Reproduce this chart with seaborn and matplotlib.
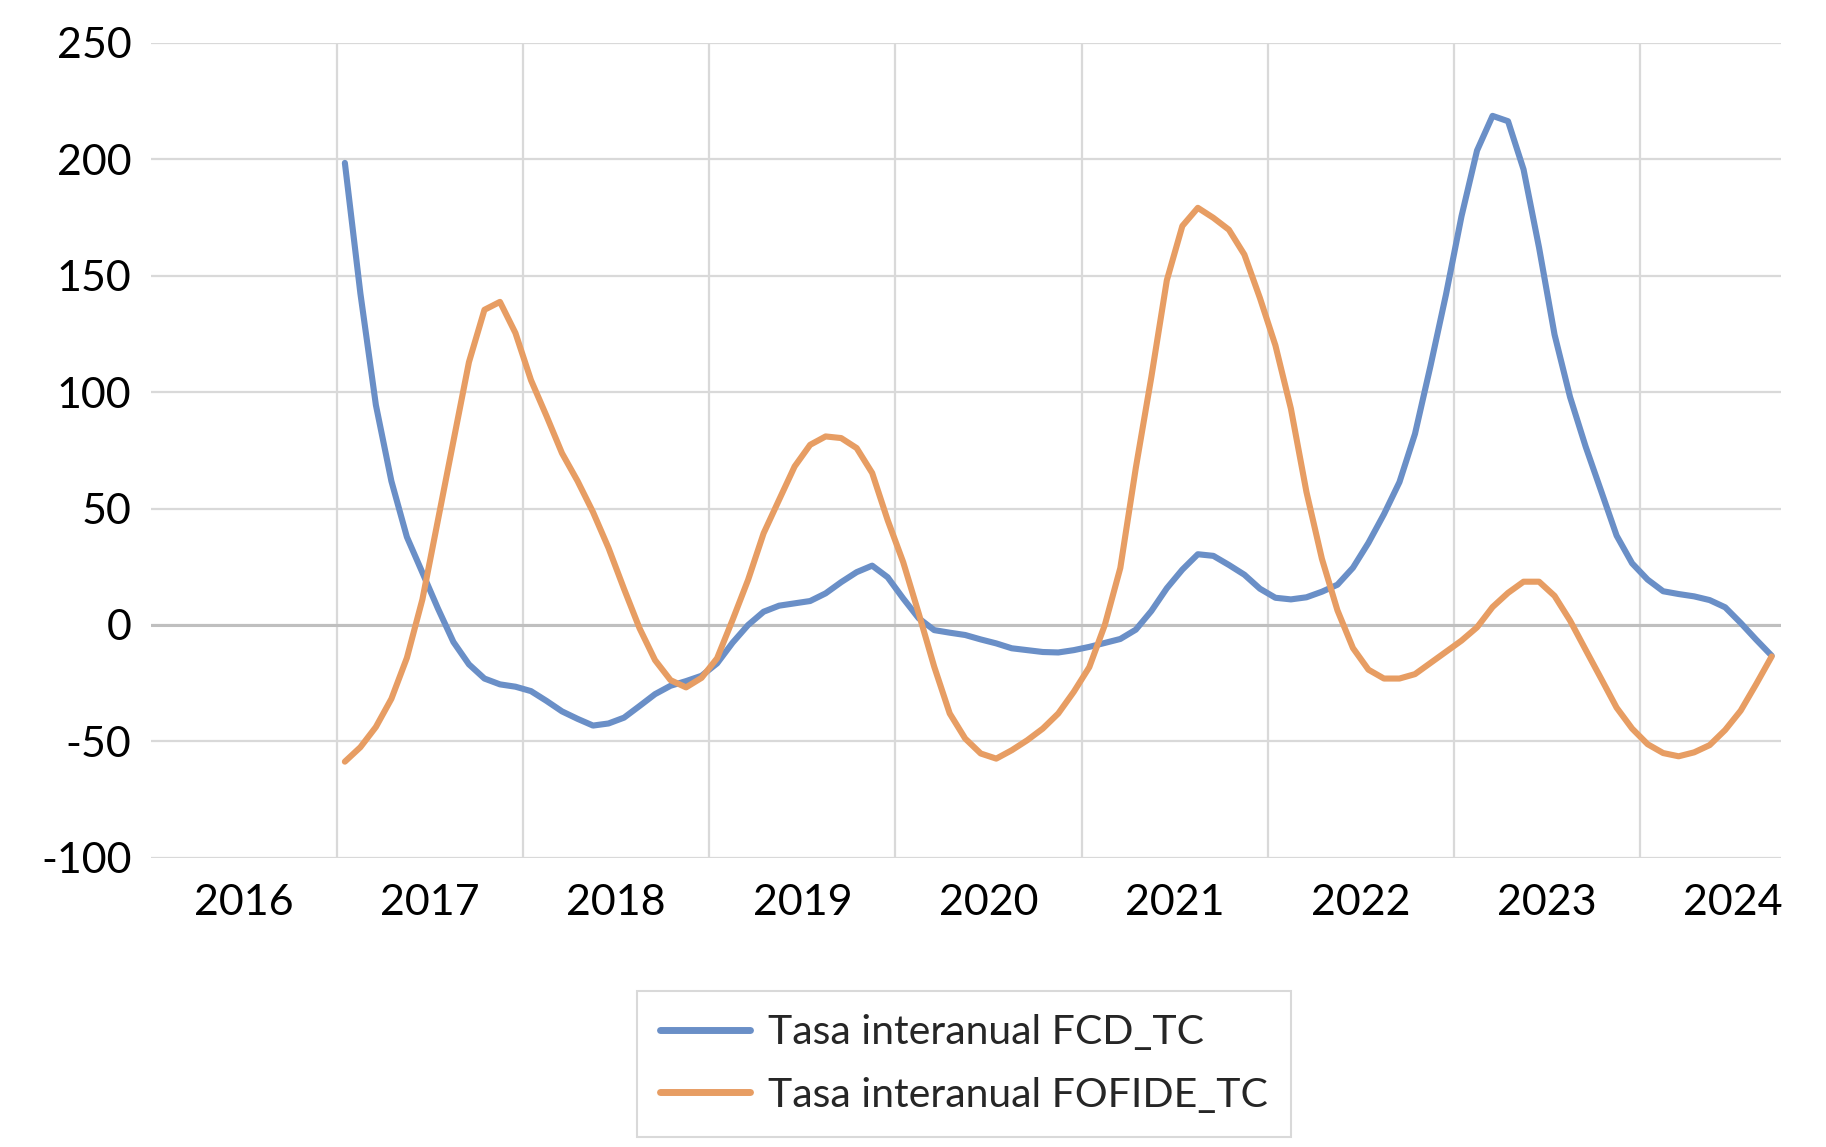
import numpy as np
import pandas as pd
import matplotlib
matplotlib.use("Agg")
import matplotlib.pyplot as plt
import seaborn as sns

# ---------------- data ----------------
years = ["2016", "2017", "2018", "2019", "2020", "2021", "2022", "2023", "2024"]
series_names = ["Tasa interanual FCD_TC", "Tasa interanual FOFIDE_TC"]

# monthly observations, Jan 2017 .. Sep 2024
fcd = [198.5, 142.5, 94.5, 61.8, 37.8, 22.5, 7.1, -7.3, -16.9, -23.0,
       -25.5, -26.5, -28.4, -32.6, -37.1, -40.3, -43.2, -42.3, -39.8, -34.8,
       -29.7, -26.1, -24.1, -21.8, -16.5, -7.6, 0.0, 5.7, 8.3, 9.3,
       10.3, 13.6, 18.4, 22.7, 25.5, 20.5, 11.4, 2.9, -2.2, -3.3,
       -4.3, -6.2, -7.9, -10.0, -10.8, -11.6, -11.8, -10.8, -9.4, -7.7,
       -6.0, -2.0, 6.0, 15.8, 23.8, 30.4, 29.7, 25.8, 21.6, 15.6,
       11.7, 11.0, 11.9, 14.3, 17.3, 24.6, 35.3, 47.6, 61.4, 82.1,
       111.3, 142.0, 175.6, 203.8, 218.7, 216.4, 195.7, 162.1, 124.7, 97.9,
       76.7, 57.6, 38.4, 26.5, 19.5, 14.5, 13.3, 12.3, 10.7, 7.6,
       0.9, -6.3, -13.2]

fofide = [-58.7, -52.5, -43.8, -31.7, -14.1, 11.0, 45.0, 79.0, 112.9, 135.4,
          138.8, 125.4, 105.2, 89.8, 73.8, 61.9, 48.5, 33.1, 15.5, -1.4,
          -15.1, -23.7, -26.8, -22.7, -14.3, 2.2, 19.4, 39.4, 53.8, 68.1,
          77.4, 81.0, 80.3, 76.0, 65.3, 45.0, 27.0, 5.0, -17.9, -38.0,
          -48.8, -55.2, -57.4, -53.8, -49.5, -44.5, -38.0, -28.7, -18.1, 0.0,
          24.5, 67.5, 106.5, 148.1, 171.4, 179.2, 174.9, 169.8, 159.1, 140.5,
          120.1, 92.9, 57.2, 28.4, 6.3, -9.9, -19.2, -23.0, -23.0, -21.1,
          -16.3, -11.5, -6.7, -1.0, 7.7, 13.8, 18.6, 18.6, 12.5, 1.9,
          -10.6, -23.0, -35.5, -44.5, -51.2, -55.0, -56.4, -54.7, -51.6, -45.1,
          -36.8, -25.4, -13.5]

y_ticks = [-100, -50, 0, 50, 100, 150, 200, 250]

# months counted from Jan 2016 (month centre); first observation = Jan 2017
month_pos = np.arange(len(fcd)) + 12.5

df = pd.DataFrame({
    "mes": np.concatenate([month_pos, month_pos]),
    "valor": np.concatenate([fcd, fofide]),
    "serie": [series_names[0]] * len(fcd) + [series_names[1]] * len(fofide),
})

colors = ["#6A8FC7", "#E79D63"]

# ---------------- style ----------------
sns.set_style("white")
plt.rcParams["font.family"] = ["Lato", "DejaVu Sans"]
plt.rcParams["axes.unicode_minus"] = False

W, H = 1826, 1147
fig = plt.figure(figsize=(W / 100, H / 100), dpi=100)
left, right, top, bottom = 151, 1781, 43, 857.8
ax = fig.add_axes([left / W, 1 - bottom / H, (right - left) / W, (bottom - top) / H])

sns.lineplot(data=df, x="mes", y="valor", hue="serie", palette=colors,
             ax=ax, legend=True, zorder=3)
for ln in ax.lines:
    ln.set_linewidth(4.4)
    ln.set_solid_joinstyle("round")
    ln.set_solid_capstyle("round")

ax.set_xlim(0, 105.1)
ax.set_ylim(-100, 250)

# gridlines at year boundaries, labels centred on each year
ax.set_xticks(np.arange(12, 100, 12))
ax.set_xticklabels([])
ax.set_xticks(np.arange(6, 108, 12), minor=True)
ax.set_xticklabels(years, minor=True)
ax.set_yticks(y_ticks)
ax.set_yticklabels([str(v) for v in y_ticks])
ax.tick_params(axis="both", which="both", length=0, labelsize=31, colors="black")
ax.tick_params(axis="x", which="minor", pad=19)
ax.tick_params(axis="y", pad=14)

ax.grid(True, which="major", axis="both", color="#D9D9D9", linewidth=1.6, zorder=0)
ax.axhline(0, color="#BFBFBF", linewidth=2.2, zorder=1)
for s in ax.spines.values():
    s.set_visible(False)
ax.set_xlabel("")
ax.set_ylabel("")

handles, labels = ax.get_legend_handles_labels()
ax.get_legend().remove()
leg = fig.legend(handles, labels, loc="upper left",
                 bbox_to_anchor=(637 / W, 1 - 991 / H), bbox_transform=fig.transFigure,
                 frameon=True, fancybox=False, edgecolor="#D9D9D9", framealpha=1,
                 fontsize=29.5, handlelength=2.2, handletextpad=0.42,
                 borderpad=0.57, labelspacing=0.62, borderaxespad=0)
leg.get_frame().set_linewidth(1.5)
for h in leg.legend_handles:
    h.set_linewidth(5.0)

fig.savefig("out.png", dpi=100)
